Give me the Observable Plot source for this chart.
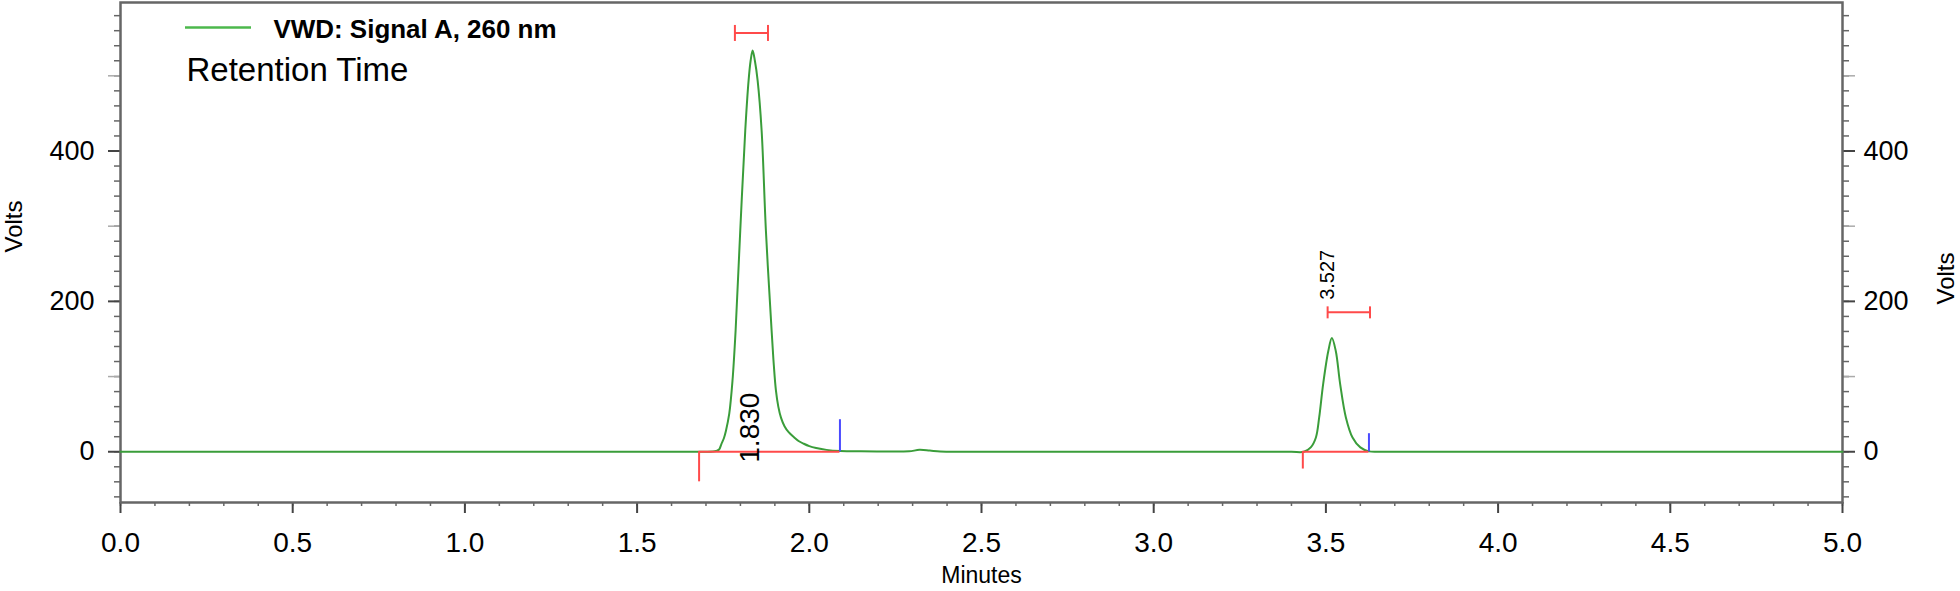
<!DOCTYPE html>
<html>
<head>
<meta charset="utf-8">
<script src="https://cdn.jsdelivr.net/npm/d3@7"></script>
<script src="https://cdn.jsdelivr.net/npm/@observablehq/plot@0.6"></script>
<style>
  html, body { margin: 0; padding: 0; background: #fff; overflow: hidden; }
  #chart { width: 1960px; height: 591px; }
</style>
</head>
<body>
<div id="chart"></div>
<script>
// ---- Data ----
const times = [0, 0.5, 1.0, 1.5, 1.650, 1.700, 1.720, 1.729, 1.738, 1.745, 1.752, 1.758, 1.7676, 1.777, 1.786, 1.7995, 1.814, 1.8237, 1.8296, 1.8354, 1.842, 1.850, 1.8616, 1.874, 1.8906, 1.897, 1.903, 1.910, 1.918, 1.928, 1.940, 1.955, 1.970, 1.984, 2.000, 2.020, 2.050, 2.090, 2.150, 2.250, 2.290, 2.320, 2.350, 2.380, 2.450, 2.700, 3.000, 3.300, 3.400, 3.436, 3.456, 3.471, 3.4805, 3.492, 3.507, 3.5173, 3.5287, 3.5414, 3.558, 3.5773, 3.600, 3.625, 3.660, 3.750, 4.000, 4.500, 5.0];
const volts = [0, 0, 0, 0, 0, 0, 0.3, 1, 3, 10.6, 18, 28, 50.6, 94.5, 161, 294, 427, 493.6, 520, 533.6, 520, 493.6, 427, 294, 161, 115, 82, 60, 45, 34, 26, 19.5, 14, 10.6, 7.5, 5, 2.5, 1, 0.5, 0.4, 0.5, 2.5, 1.5, 0.3, 0, 0, 0, 0, 0, 0, 5.8, 19, 45.7, 90, 134, 151.3, 134, 90, 45.7, 19, 5.8, 0.5, 0, 0, 0, 0, 0];

// Integration markers
const peakStart = [1.680, 3.433];
const peakEnd = [2.089, 3.625];
const startDrop = [-40, -23];
const endRise = [42.6, 24];

// Retention-time brackets and labels
const bracketLeft = [1.784, 3.505];
const bracketRight = [1.880, 3.628];
const bracketLevel = [557, 185.4];
const rtLabels = ["1.830", "3.527"];
const rtLabelX = [1.829, 3.506];
const rtLabelY = [-14.6, 202];

// Axis ticks
const xTicks = [0, 0.5, 1.0, 1.5, 2.0, 2.5, 3.0, 3.5, 4.0, 4.5, 5.0];
const yTicks = [0, 200, 400];
const yMidTicks = [100, 300, 500];

const legendLabel = "VWD: Signal A, 260 nm";
const titleLabel = "Retention Time";
const xLabel = "Minutes";
const yLabel = "Volts";

// ---- Build tables ----
const signal = times.map((t, i) => ({t, v: volts[i]}));
const peaks = peakStart.map((s, i) => ({s, e: peakEnd[i], drop: startDrop[i], rise: endRise[i]}));
const brackets = bracketLeft.map((l, i) => ({l, r: bracketRight[i], y: bracketLevel[i]}));
const labels = rtLabels.map((text, i) => ({text, x: rtLabelX[i], y: rtLabelY[i], big: i === 0}));
const capEnds = brackets.flatMap(b => [{x: b.l, y: b.y, big: b.y > 300}, {x: b.r, y: b.y, big: b.y > 300}]);

const xMinor = d3.range(0, 51).map(i => i / 10);
const yMinor = d3.range(-60, 581, 20);

const vbar = {
  draw(context, size) {
    const r = Math.sqrt(size / Math.PI);
    context.moveTo(0, -r);
    context.lineTo(0, r);
  }
};

const RED = "#ff4a4a";
const BLUE = "#4a4aff";
const GREEN = "#3a9d3a";
const AXIS = "#666";

const plot = Plot.plot({
  width: 1960,
  height: 591,
  marginLeft: 120,
  marginRight: 118,
  marginTop: 2,
  marginBottom: 89,
  style: {fontFamily: "'Liberation Sans', Arial, sans-serif", background: "#fff", color: "#000"},
  x: {domain: [0, 5], label: null},
  y: {domain: [-67.5, 597.5], label: null},
  marks: [
    // x axis
    Plot.axisX({ticks: xMinor, tickSize: 4, tickFormat: () => "", label: null, stroke: AXIS, strokeWidth: 1.5}),
    Plot.axisX({ticks: xTicks, tickSize: 11, tickPadding: 19, tickFormat: d3.format(".1f"), fontSize: 28, label: null, stroke: "#444", strokeWidth: 2, fill: "#000"}),
    // left y axis
    Plot.axisY({anchor: "left", ticks: yMinor, tickSize: 6, tickFormat: () => "", label: null, stroke: AXIS, strokeWidth: 1.5}),
    Plot.axisY({anchor: "left", ticks: yMidTicks, tickSize: 12, tickFormat: () => "", label: null, stroke: "#aaa", strokeWidth: 1.5}),
    Plot.axisY({anchor: "left", ticks: yTicks, tickSize: 12, tickPadding: 14, tickFormat: d => String(d), fontSize: 27, label: null, stroke: "#444", strokeWidth: 2, fill: "#000"}),
    // right y axis
    Plot.axisY({anchor: "right", ticks: yMinor, tickSize: 6, tickFormat: () => "", label: null, stroke: AXIS, strokeWidth: 1.5}),
    Plot.axisY({anchor: "right", ticks: yMidTicks, tickSize: 12, tickFormat: () => "", label: null, stroke: "#aaa", strokeWidth: 1.5}),
    Plot.axisY({anchor: "right", ticks: yTicks, tickSize: 12, tickPadding: 9, tickFormat: d => String(d), fontSize: 27, label: null, stroke: "#444", strokeWidth: 2, fill: "#000"}),
    Plot.frame({stroke: AXIS, strokeWidth: 2.5}),

    // signal
    Plot.line(signal, {x: "t", y: "v", stroke: GREEN, strokeWidth: 2, curve: "catmull-rom"}),

    // integration baselines
    Plot.ruleY(peaks, {x1: "s", x2: "e", y: 0, stroke: RED, strokeWidth: 2}),
    Plot.ruleX(peaks, {x: "s", y1: 0, y2: "drop", stroke: RED, strokeWidth: 2}),
    Plot.ruleX(peaks, {x: "e", y1: 0, y2: "rise", stroke: BLUE, strokeWidth: 2}),

    // retention-time brackets
    Plot.ruleY(brackets, {x1: "l", x2: "r", y: "y", stroke: RED, strokeWidth: 2}),
    Plot.dot(capEnds.filter(d => d.big), {x: "x", y: "y", symbol: vbar, r: 8, stroke: RED, strokeWidth: 2, fill: "none"}),
    Plot.dot(capEnds.filter(d => !d.big), {x: "x", y: "y", symbol: vbar, r: 6, stroke: RED, strokeWidth: 2, fill: "none"}),

    // retention-time labels
    Plot.text(labels.filter(d => d.big), {x: "x", y: "y", text: "text", rotate: -90, textAnchor: "start", lineAnchor: "middle", fontSize: 28, fill: "#000"}),
    Plot.text(labels.filter(d => !d.big), {x: "x", y: "y", text: "text", rotate: -90, textAnchor: "start", lineAnchor: "middle", fontSize: 20, fill: "#000"}),

    // axis titles
    Plot.text([xLabel], {text: d => d, frameAnchor: "bottom", dy: 64, lineAnchor: "top", fontSize: 23, fill: "#000"}),
    Plot.text([yLabel], {text: d => d, frameAnchor: "left", dx: -106, rotate: -90, lineAnchor: "middle", fontSize: 24, fill: "#000"}),
    Plot.text([yLabel], {text: d => d, frameAnchor: "right", dx: 104, rotate: -90, lineAnchor: "middle", fontSize: 24, fill: "#000"}),

    // legend + title
    Plot.text([legendLabel], {text: d => d, frameAnchor: "top-left", dx: 153, dy: 18, textAnchor: "start", lineAnchor: "top", fontSize: 25, fontWeight: "bold", fill: "#000", className: "legend-label"}),
    Plot.text([titleLabel], {text: d => d, frameAnchor: "top-left", dx: 66, dy: 55, textAnchor: "start", lineAnchor: "top", fontSize: 33, fill: "#000"})
  ]
});

// legend swatch and label width to match the original
d3.select(plot).append("line")
  .attr("x1", 185).attr("x2", 251)
  .attr("y1", 27.5).attr("y2", 27.5)
  .attr("stroke", "#4cb84c").attr("stroke-width", 2.5);
d3.select(plot).selectAll(".legend-label text")
  .attr("textLength", 283)
  .attr("lengthAdjust", "spacingAndGlyphs");

document.getElementById("chart").appendChild(plot);
</script>
</body>
</html>
